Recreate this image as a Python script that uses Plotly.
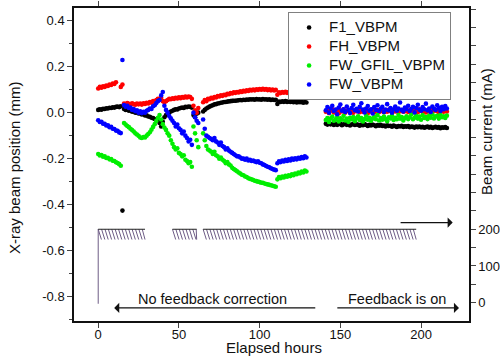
import numpy as np
import plotly.graph_objects as go

# ---------------- data ----------------
HOURS_S1 = list(range(0, 16))
HOURS_S2 = list(range(16, 38))
HOURS_S3 = list(range(38, 63))
HOURS_S4 = list(range(65, 130))
HOURS_S5 = list(range(141, 217))

F1_S1 = [0.012, 0.015, 0.013, 0.017, 0.016, 0.019, 0.018, 0.021, 0.020, 0.023, 0.022, 0.025, 0.026, 0.024, 0.028, -0.426]
FH_S1 = [0.105, 0.112, 0.108, 0.115, 0.112, 0.118, 0.116, 0.122, 0.120, 0.127, 0.125, 0.132, None, None, 0.112, 0.122]
FWG_S1 = [-0.180, -0.186, -0.184, -0.192, -0.190, -0.197, -0.196, -0.203, -0.202, -0.209, -0.210, -0.216, -0.219, -0.224, -0.231, None]
FW_S1 = [-0.033, -0.041, -0.040, -0.048, -0.049, -0.056, -0.055, -0.063, -0.062, -0.070, -0.071, -0.078, -0.079, -0.086, -0.089, 0.229]

F1_S2 = [0.016, 0.012, 0.013, 0.008, 0.009, 0.004, 0.005, 0.000, 0.001, -0.004, -0.003, -0.008, -0.007, -0.012, -0.012, -0.017, -0.018, -0.022, -0.024, -0.028, -0.031, -0.035]
FH_S2 = [0.040, 0.036, 0.042, 0.038, 0.035, 0.041, 0.037, 0.034, 0.040, 0.036, 0.039, 0.035, 0.041, 0.038, 0.043, 0.040, 0.046, 0.043, 0.050, 0.048, 0.055, 0.060]
FWG_S2 = [-0.045, -0.052, -0.058, -0.063, -0.070, -0.076, -0.082, -0.090, -0.095, -0.101, -0.108, -0.110, -0.106, -0.108, -0.100, -0.093, -0.085, -0.074, -0.062, -0.050, -0.036, -0.022]
FW_S2 = [0.033, 0.026, 0.030, 0.020, 0.022, 0.012, 0.016, 0.006, 0.010, 0.000, 0.006, -0.002, 0.004, 0.000, 0.008, 0.012, 0.018, 0.016, 0.028, 0.032, 0.042, 0.050]

F1_S3 = [-0.045, -0.060, -0.040, -0.020, -0.010, -0.005, 0.000, 0.005, 0.008, 0.012, 0.015, 0.014, 0.018, 0.020, 0.022, 0.020, 0.025, 0.024, 0.027, 0.025, 0.022, -0.010, -0.020, -0.005, 0.000]
FH_S3 = [0.060, 0.065, 0.050, 0.045, 0.050, 0.055, 0.060, 0.058, 0.062, 0.060, 0.065, 0.062, 0.067, 0.063, 0.068, 0.065, 0.070, 0.066, 0.070, 0.068, 0.060, 0.030, 0.010, 0.000, 0.020]
FWG_S3 = [-0.010, -0.030, -0.050, -0.065, -0.075, -0.090, -0.100, -0.120, -0.135, -0.150, -0.160, -0.155, -0.175, -0.180, -0.190, -0.185, -0.205, -0.210, -0.220, -0.215, -0.235, -0.060, -0.090, -0.120, -0.150]
FW_S3 = [0.055, 0.075, 0.090, 0.030, 0.012, 0.000, -0.015, -0.025, -0.035, -0.045, -0.060, -0.052, -0.068, -0.075, -0.090, -0.082, -0.100, -0.110, -0.125, -0.118, -0.140, 0.000, -0.020, -0.035, -0.045]

F1_S4 = [0.005, 0.012, 0.018, 0.022, 0.026, 0.030, 0.032, 0.036, 0.037, 0.040,
         0.041, 0.043, 0.044, 0.046, 0.046, 0.048, 0.049, 0.050, 0.051, 0.052,
         0.052, 0.053, 0.054, 0.055, 0.054, 0.056, 0.055, 0.057, 0.056, 0.058,
         0.057, 0.058, 0.056, 0.059, 0.057, 0.058, 0.056, 0.059, 0.057, 0.058,
         0.056, 0.058, 0.055, 0.057, 0.055, 0.056, 0.038, 0.048, 0.046, 0.049,
         0.047, 0.050, 0.046, 0.049, 0.046, 0.048, 0.045, 0.048, 0.044, 0.047,
         0.045, 0.047, 0.043, 0.046, 0.044]
FH_S4 = [0.045, 0.055, 0.050, 0.060, 0.058, 0.065, 0.062, 0.068, 0.066, 0.072,
         0.070, 0.075, 0.073, 0.078, 0.076, 0.082, 0.080, 0.085, 0.083, 0.088,
         0.086, 0.090, 0.088, 0.093, 0.090, 0.095, 0.092, 0.097, 0.094, 0.099,
         0.096, 0.100, 0.097, 0.102, 0.099, 0.103, 0.100, 0.104, 0.100, 0.103,
         0.098, 0.102, 0.097, 0.100, 0.096, 0.099, 0.078, 0.088, 0.085, 0.090,
         0.087, 0.091, 0.086, 0.090, 0.085, 0.089, 0.084, 0.088, 0.083, 0.087,
         0.082, 0.086, 0.080, 0.085, 0.079]
FWG_S4 = [-0.090, -0.120, -0.145, -0.160, -0.165, -0.170, -0.180, -0.170, -0.185, -0.190,
          -0.200, -0.195, -0.205, -0.210, -0.220, -0.215, -0.225, -0.230, -0.240, -0.245,
          -0.250, -0.255, -0.260, -0.265, -0.270, -0.272, -0.278, -0.280, -0.285, -0.288,
          -0.290, -0.293, -0.296, -0.298, -0.300, -0.302, -0.305, -0.305, -0.308, -0.310,
          -0.312, -0.314, -0.316, -0.318, -0.320, -0.322, -0.290, -0.280, -0.285, -0.278,
          -0.282, -0.275, -0.279, -0.272, -0.276, -0.268, -0.272, -0.265, -0.268, -0.260,
          -0.264, -0.256, -0.260, -0.252, -0.256]
FW_S4 = [-0.030, -0.070, -0.100, -0.105, -0.110, -0.115, -0.120, -0.110, -0.125, -0.130,
         -0.140, -0.130, -0.145, -0.150, -0.160, -0.155, -0.165, -0.170, -0.175, -0.180,
         -0.185, -0.190, -0.190, -0.195, -0.200, -0.200, -0.205, -0.200, -0.208, -0.205,
         -0.210, -0.208, -0.212, -0.215, -0.212, -0.218, -0.220, -0.225, -0.228, -0.232,
         -0.235, -0.238, -0.242, -0.245, -0.248, -0.250, -0.220, -0.212, -0.215, -0.208,
         -0.212, -0.205, -0.210, -0.203, -0.208, -0.200, -0.205, -0.198, -0.203, -0.196,
         -0.200, -0.193, -0.198, -0.190, -0.195]

F1_S5 = [-0.048, -0.052, -0.046, -0.051, -0.049, -0.054, -0.047, -0.053, -0.050, -0.048,
         -0.055, -0.051, -0.049, -0.053, -0.050, -0.056, -0.052, -0.049, -0.054, -0.051,
         -0.053, -0.057, -0.052, -0.055, -0.050, -0.054, -0.058, -0.053, -0.056, -0.052,
         -0.055, -0.059, -0.054, -0.057, -0.053, -0.058, -0.056, -0.060, -0.055, -0.058,
         -0.057, -0.061, -0.056, -0.059, -0.062, -0.058, -0.060, -0.057, -0.062, -0.059,
         -0.061, -0.058, -0.063, -0.060, -0.062, -0.065, -0.061, -0.063, -0.060, -0.064,
         -0.062, -0.066, -0.063, -0.061, -0.065, -0.062, -0.067, -0.064, -0.062, -0.066,
         -0.063, -0.068, -0.064, -0.066, -0.063, -0.067]
FH_S5 = [0.004, 0.010, -0.002, 0.008, 0.014, 0.001, 0.006, 0.012, -0.004, 0.009,
         0.005, 0.015, 0.000, 0.007, 0.011, 0.003, 0.013, -0.001, 0.008, 0.006,
         0.016, 0.002, 0.009, 0.004, 0.012, 0.007, -0.003, 0.010, 0.005, 0.014,
         0.001, 0.008, 0.011, 0.003, 0.006, 0.015, 0.002, 0.009, 0.004, 0.012,
         0.007, -0.002, 0.010, 0.005, 0.013, 0.001, 0.008, 0.011, 0.004, 0.006,
         0.014, 0.003, 0.009, 0.000, 0.012, 0.006, 0.010, 0.002, 0.015, 0.007,
         0.004, 0.011, 0.001, 0.009, 0.005, 0.013, 0.003, 0.008, 0.012, 0.006,
         0.002, 0.010, 0.007, 0.004, 0.011, 0.005]
FWG_S5 = [-0.032, -0.023, -0.041, -0.026, -0.017, -0.035, -0.029, -0.020, -0.038, -0.025,
          -0.031, -0.014, -0.034, -0.026, -0.040, -0.022, -0.029, -0.019, -0.037, -0.025,
          -0.016, -0.032, -0.023, -0.038, -0.028, -0.013, -0.031, -0.022, -0.035, -0.026,
          -0.019, -0.029, -0.011, -0.034, -0.023, -0.031, -0.017, -0.028, -0.037, -0.020,
          -0.025, -0.014, -0.032, -0.022, -0.029, -0.010, -0.026, -0.019, -0.034, -0.023,
          -0.016, -0.028, -0.020, -0.008, -0.029, -0.022, -0.014, -0.026, -0.017, -0.031,
          -0.011, -0.023, -0.019, -0.028, -0.013, -0.022, -0.007, -0.025, -0.017, -0.014,
          -0.026, -0.010, -0.020, -0.016, -0.023, -0.013]
FW_S5 = [0.010, 0.024, 0.000, 0.018, 0.030, 0.007, 0.013, -0.007, 0.022, 0.035,
         0.008, 0.015, 0.003, 0.027, 0.012, -0.002, 0.020, 0.034, 0.010, 0.017,
         0.005, 0.025, 0.041, 0.013, 0.001, 0.018, 0.029, 0.008, 0.015, -0.004,
         0.024, 0.012, 0.032, 0.007, 0.017, 0.025, 0.003, 0.013, 0.037, 0.010,
         0.020, 0.000, 0.015, 0.027, 0.008, 0.018, 0.044, 0.012, 0.005, 0.022,
         0.015, 0.030, 0.007, 0.017, 0.025, 0.001, 0.020, 0.034, 0.013, 0.008,
         0.024, 0.015, 0.039, 0.010, 0.018, 0.003, 0.027, 0.017, 0.012, 0.032,
         0.020, 0.007, 0.025, 0.015, 0.029, 0.018]

SERIES_NAMES = ["F1_VBPM", "FH_VBPM", "FW_GFIL_VBPM", "FW_VBPM"]
SERIES_COLORS = ["#000000", "#ff0000", "#00ee00", "#0000ff"]

# beam current (top-up fills)
CURRENT_RUN_START_H = [0, 46, 65]
CURRENT_RUN_END_H = [29, 61, 197]
REFILL_PERIOD_H = 2.1
CURRENT_TOP_MA = 200
CURRENT_BOTTOM_MA = 172
INITIAL_CURRENT_MA = -3

LEFT_TICKS = [-0.8, -0.6, -0.4, -0.2, 0.0, 0.2, 0.4]
LEFT_TICKTEXT = ["-0.8", "-0.6", "-0.4", "-0.2", "0.0", "0.2", "0.4"]
RIGHT_TICKS = list(range(0, 801, 50))
RIGHT_TICKTEXT = ["0", "", "100", "", "200"] + [""] * 12
X_TICKS = [0, 50, 100, 150, 200]

# ---------------- assemble ----------------
hours = [HOURS_S1, HOURS_S2, HOURS_S3, HOURS_S4, HOURS_S5]
data = {
    "F1_VBPM": [F1_S1, F1_S2, F1_S3, F1_S4, F1_S5],
    "FH_VBPM": [FH_S1, FH_S2, FH_S3, FH_S4, FH_S5],
    "FW_GFIL_VBPM": [FWG_S1, FWG_S2, FWG_S3, FWG_S4, FWG_S5],
    "FW_VBPM": [FW_S1, FW_S2, FW_S3, FW_S4, FW_S5],
}
for name, segs in data.items():
    for h, v in zip(hours, segs):
        assert len(h) == len(v), (name, len(h), len(v))

fig = go.Figure()

# beam current sawtooth
cx, cy = [0, 0, None], [INITIAL_CURRENT_MA, CURRENT_TOP_MA, None]
tx, ty = [], []
for s, e in zip(CURRENT_RUN_START_H, CURRENT_RUN_END_H):
    for t in np.arange(s, e, REFILL_PERIOD_H):
        t_end = min(t + REFILL_PERIOD_H * 0.95, e)
        cx += [t, t_end, None]
        cy += [CURRENT_TOP_MA, CURRENT_BOTTOM_MA, None]
    tx += [s, e, None]
    ty += [CURRENT_TOP_MA, CURRENT_TOP_MA, None]

fig.add_trace(go.Scatter(x=cx, y=cy, mode="lines", yaxis="y2",
                         line=dict(color="#6e5c86", width=1),
                         showlegend=False, hoverinfo="skip"))
fig.add_trace(go.Scatter(x=tx, y=ty, mode="lines", yaxis="y2",
                         line=dict(color="#222222", width=1),
                         showlegend=False, hoverinfo="skip"))

for name, color in zip(SERIES_NAMES, SERIES_COLORS):
    xs, ys = [], []
    for h, v in zip(hours, data[name]):
        xs += h
        ys += v
    fig.add_trace(go.Scatter(x=xs, y=ys, mode="markers",
                             name='<span style="font-size:15px">%s</span>' % name,
                             marker=dict(color=color, size=4.6, line=dict(width=0))))

FONT = "Liberation Sans, Arial, sans-serif"

fig.update_layout(
    width=500, height=356,
    margin=dict(l=74, r=31, t=8, b=35, autoexpand=False),
    paper_bgcolor="white", plot_bgcolor="white",
    font=dict(family=FONT, size=13, color="#111111"),
    showlegend=True,
    legend=dict(x=0.542, y=0.987, xanchor="left", yanchor="top",
                bgcolor="white", bordercolor="#808080", borderwidth=1,
                font=dict(size=12, family=FONT), tracegroupgap=0),
    xaxis=dict(range=[-15, 229.7], tickvals=X_TICKS, ticks="outside", ticklen=5,
               showline=True, linecolor="#111111", linewidth=1.5, mirror="ticks",
               showgrid=False, zeroline=False, tickfont=dict(size=13), automargin=False,
               ticklabelstandoff=-4),
    yaxis=dict(range=[-0.906, 0.455], tickvals=LEFT_TICKS, ticktext=LEFT_TICKTEXT,
               ticks="outside", ticklen=5, showline=True, linecolor="#111111",
               linewidth=1.5, mirror=True, showgrid=False, zeroline=False,
               minor=dict(dtick=0.1, tick0=0, ticks="outside", ticklen=3, showgrid=False),
               tickfont=dict(size=13), automargin=False),
    yaxis2=dict(range=[-50, 803], overlaying="y", side="right",
                tickvals=RIGHT_TICKS, ticktext=RIGHT_TICKTEXT, ticks="outside", ticklen=5,
                showline=True, linecolor="#111111", linewidth=1.5, showgrid=False,
                zeroline=False, tickfont=dict(size=13), automargin=False),
)

ann = []
ann.append(dict(text="X-ray beam position (mm)", xref="paper", yref="paper",
                x=-0.1506, y=0.4904, textangle=-90, showarrow=False,
                xanchor="center", yanchor="middle", font=dict(size=15)))
ann.append(dict(text="Beam current (mA)", xref="paper", yref="paper",
                x=1.0456, y=0.604, textangle=-90, showarrow=False,
                xanchor="center", yanchor="middle", font=dict(size=15)))
ann.append(dict(text="Elapsed hours", xref="paper", yref="paper",
                x=0.506, y=-0.085, showarrow=False,
                xanchor="center", yanchor="middle", font=dict(size=15)))
ann.append(dict(text="No feedback correction", xref="x", yref="y", x=70.9, y=-0.81,
                showarrow=False, xanchor="center", yanchor="middle", font=dict(size=14.5)))
ann.append(dict(text="Feedback is on", xref="x", yref="y", x=185.3, y=-0.81,
                showarrow=False, xanchor="center", yanchor="middle", font=dict(size=14.5)))
for head_x, tail_x, yy in [(9.9, 135.4, -0.849), (223.5, 147.2, -0.849), (219.6, 186.4, -0.478)]:
    ann.append(dict(text="", xref="x", yref="y", axref="x", ayref="y",
                    x=head_x, y=yy, ax=tail_x, ay=yy, showarrow=True,
                    arrowhead=1, arrowsize=1.3, arrowwidth=1.3, arrowcolor="#111111"))
fig.update_layout(annotations=ann)

fig.write_html("out.html", config={"displayModeBar": False},
               post_script="document.body.style.margin='0';document.body.style.overflow='hidden';document.documentElement.style.overflow='hidden';")
